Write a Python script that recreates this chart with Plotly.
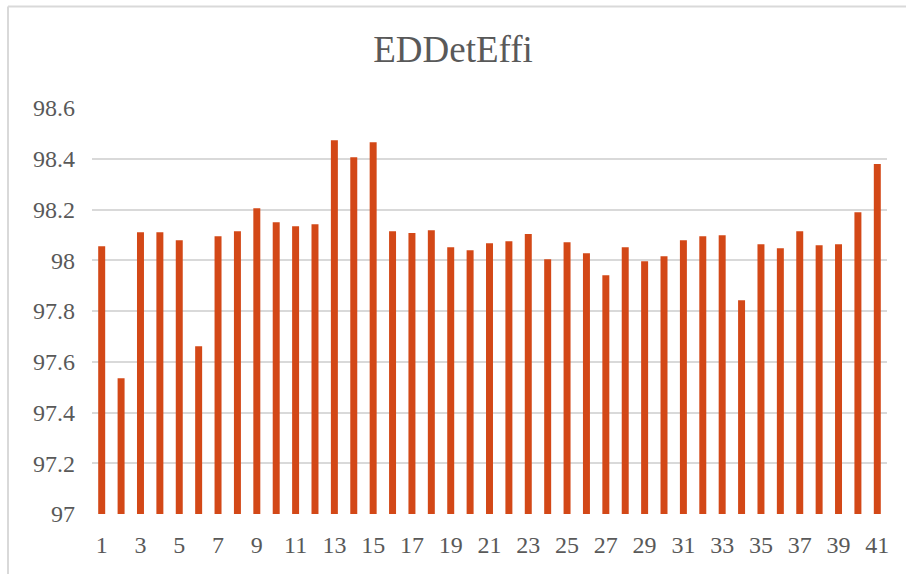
import plotly.graph_objects as go

categories = [str(i) for i in range(1, 42)]
values = [98.055, 97.535, 98.110, 98.110, 98.079, 97.661, 98.095, 98.114, 98.205, 98.150,
          98.134, 98.142, 98.473, 98.406, 98.465, 98.114, 98.107, 98.118, 98.051, 98.039,
          98.067, 98.075, 98.103, 98.004, 98.071, 98.028, 97.941, 98.051, 97.996, 98.016,
          98.079, 98.095, 98.099, 97.842, 98.063, 98.047, 98.114, 98.059, 98.063, 98.189,
          98.379]
x_tick_labels = [str(i) for i in range(1, 42, 2)]
y_ticks = [97, 97.2, 97.4, 97.6, 97.8, 98, 98.2, 98.4, 98.6]

W, H = 906, 574
L, R, T, B = 92, 19, 108, 60
pw, ph = W - L - R, H - T - B
FONT = "Liberation Serif"

fig = go.Figure(go.Bar(x=categories, y=values, marker_color="#D34817",
                       marker_line_width=0))
fig.update_layout(
    width=W, height=H,
    margin=dict(l=L, r=R, t=T, b=B, autoexpand=False),
    paper_bgcolor="white", plot_bgcolor="white",
    bargap=0.64,
    showlegend=False,
    title=dict(text="EDDetEffi", x=0.5, xanchor="center", y=1 - 49 / H, yanchor="middle",
               font=dict(family=FONT, size=37, color="#595959")),
    font=dict(family=FONT, size=24, color="#595959"),
)
fig.update_xaxes(type="category", tickvals=x_tick_labels, ticktext=x_tick_labels,
                 showgrid=False, showline=False, ticks="", ticklen=0,
                 ticklabelstandoff=14,
                 tickfont=dict(family=FONT, size=24, color="#595959"))
fig.update_yaxes(range=[97, 98.6], tickvals=y_ticks, ticktext=[("%g" % v) for v in y_ticks],
                 showgrid=True, gridcolor="#D9D9D9", gridwidth=2, zeroline=False,
                 showline=False, ticks="", ticklabelstandoff=16,
                 tickfont=dict(family=FONT, size=24, color="#595959"))
# chart-area border (left and top edges are visible)
fig.add_shape(type="line", xref="paper", yref="paper",
              x0=(8 - L) / pw, x1=(8 - L) / pw, y0=(H - B - 580) / ph, y1=(H - B - 6.5) / ph,
              line=dict(color="#D9D9D9", width=2), layer="below")
fig.add_shape(type="line", xref="paper", yref="paper",
              x0=(8 - L) / pw, x1=(912 - L) / pw, y0=(H - B - 6.5) / ph, y1=(H - B - 6.5) / ph,
              line=dict(color="#D9D9D9", width=2), layer="below")
fig.write_html("out.html", config={"displayModeBar": False},
               post_script="document.body.style.margin='0';")
